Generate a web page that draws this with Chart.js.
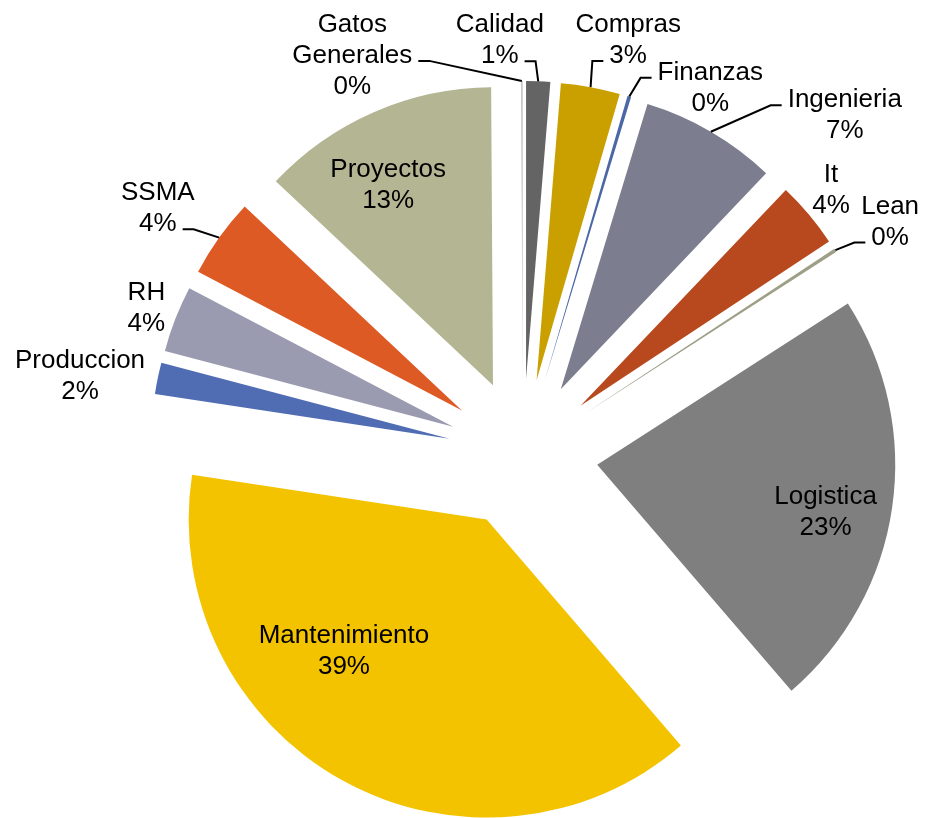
<!DOCTYPE html>
<html>
<head>
<meta charset="utf-8">
<script src="https://cdn.jsdelivr.net/npm/chart.js@4.4.0/dist/chart.umd.min.js"></script>
<style>
    html, body { margin: 0; padding: 0; background: #fff; }
    #wrap { width: 926px; height: 818px; position: relative; }
</style>
</head>
<body>
<div id="wrap"><canvas id="pie"></canvas></div>
<script>
var categories = ['Calidad', 'Compras', 'Finanzas', 'Ingenieria', 'It', 'Lean', 'Logistica',
    'Mantenimiento', 'Produccion', 'RH', 'SSMA', 'Proyectos', 'Gatos Generales'];
var values = [1.3, 3.2, 0.2, 7.4, 3.6, 0.2, 22.8, 38.7, 1.7, 3.6, 4.3, 12.9, 0.1];
var sliceColors = ['#646464', '#c9a000', '#4b67a6', '#7c7e8f', '#b8491e', '#9e9f86', '#7f7f7f',
    '#f3c300', '#506cb3', '#9a9bb0', '#de5a24', '#b4b592', '#c8c8c8'];

// label spots: angle (deg, clockwise from 12 o'clock) and distance from the pie centre;
// leader = which text line the leader line points at
var labelPlace = {
    'Calidad':         { ang: 356.8, dist: 416, leader: 1 },
    'Compras':         { ang: 14.2,  dist: 428.6, leader: 1 },
    'Finanzas':        { ang: 27.0,  dist: 412.6, leader: 0 },
    'Ingenieria':      { ang: 43.4,  dist: 468.3, leader: 0 },
    'It':              { ang: 49.2,  dist: 407 },
    'Lean':            { ang: 57.5,  dist: 435.3, leader: 1 },
    'Logistica':       { ang: 100.5, dist: 307.7 },
    'Mantenimiento':   { ang: 222.5, dist: 265 },
    'Produccion':      { ang: 280.15, dist: 450 },
    'RH':              { ang: 291.4, dist: 404.5 },
    'SSMA':            { ang: 304.1, dist: 441, leader: 1 },
    'Proyectos':       { ang: 333.5, dist: 302.2 },
    'Gatos Generales': { ang: 336.9, dist: 435, leader: 1 }
};

// pull every slice out along its bisector by the same distance (like Excel's explosion)
var explodePlugin = {
    id: 'explode',
    afterDatasetsUpdate: function(chart, args, opts) {
        var meta = chart.getDatasetMeta(0);
        if (!meta.data.length) return;
        chart.$center = { x: meta.data[0].x, y: meta.data[0].y };
        meta.data.forEach(function(arc) {
            var mid = (arc.startAngle + arc.endAngle) / 2;
            arc.x = chart.$center.x + Math.cos(mid) * opts.distance;
            arc.y = chart.$center.y + Math.sin(mid) * opts.distance;
        });
    }
};

var labelPlugin = {
    id: 'sliceLabels',
    afterDatasetsDraw: function(chart, args, opts) {
        var ctx = chart.ctx;
        var meta = chart.getDatasetMeta(0);
        var data = chart.data.datasets[0].data;
        var total = data.reduce(function(a, b) { return a + b; }, 0);
        var c = chart.$center;
        ctx.save();
        ctx.font = opts.font;
        ctx.fillStyle = '#000';
        ctx.strokeStyle = '#000';
        ctx.lineWidth = 2;
        ctx.textAlign = 'center';
        ctx.textBaseline = 'alphabetic';
        meta.data.forEach(function(arc, i) {
            var name = chart.data.labels[i];
            var place = opts.place[name];
            if (!place) return;
            var lines = name.split(' ');
            lines.push(Math.round(data[i] / total * 100) + '%');
            var a = place.ang * Math.PI / 180;
            var lx = c.x + Math.sin(a) * place.dist;
            var ly = c.y - Math.cos(a) * place.dist;
            var n = lines.length;
            var baselines = [];
            for (var k = 0; k < n; k++) {
                var by = ly + (k - (n - 1) / 2) * opts.lineHeight + opts.capHalf;
                baselines.push(by);
                ctx.fillText(lines[k], lx, by);
            }
            if (place.leader !== undefined) {
                // start on the outer rim of the slice, at its bisector
                var mid = (arc.startAngle + arc.endAngle) / 2;
                var px = arc.x + Math.cos(mid) * arc.outerRadius;
                var py = arc.y + Math.sin(mid) * arc.outerRadius;
                var w = ctx.measureText(lines[place.leader]).width;
                var ty = baselines[place.leader] - 2;
                var side = px > lx ? 1 : -1;
                var tx = lx + side * (w / 2 + 6);
                var ex = tx + side * 11;
                ctx.beginPath();
                ctx.moveTo(px, py);
                ctx.lineTo(ex, ty);
                ctx.lineTo(tx, ty);
                ctx.stroke();
            }
        });
        ctx.restore();
    }
};

var ctxP = document.getElementById('pie').getContext('2d');
var pie = new Chart(ctxP, {
    type: 'pie',
    data: {
        labels: categories,
        datasets: [{
            data: values,
            backgroundColor: sliceColors,
            borderWidth: 0
        }]
    },
    options: {
        responsive: true,
        maintainAspectRatio: false,
        animation: false,
        radius: 298,
        layout: { padding: { left: 120, top: 90, right: 0, bottom: 0 } },
        plugins: {
            legend: { display: false },
            tooltip: { enabled: false },
            explode: { distance: 75 },
            sliceLabels: {
                font: '26px "Liberation Sans", Arial, sans-serif',
                lineHeight: 31,
                capHalf: 9,
                place: labelPlace
            }
        }
    },
    plugins: [explodePlugin, labelPlugin]
});
</script>
</body>
</html>
